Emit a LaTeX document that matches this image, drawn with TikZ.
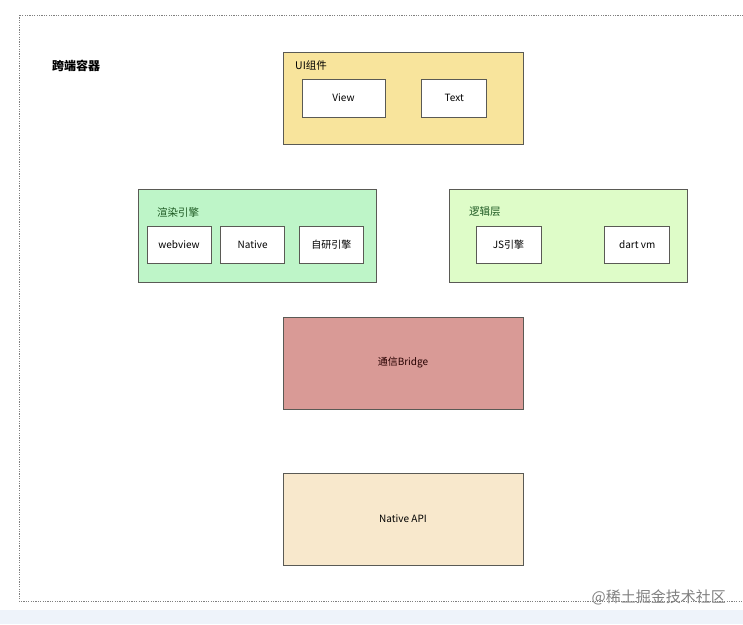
\documentclass[tikz,border=0pt]{standalone}
\usepackage{fontspec}
\setmainfont{Noto Sans CJK SC}
\usetikzlibrary{positioning}
\definecolor{uifill}{HTML}{F8E49C}
\definecolor{renderfill}{HTML}{BEF5C8}
\definecolor{logicfill}{HTML}{DEFCC8}
\definecolor{bridgefill}{HTML}{D99A96}
\definecolor{apifill}{HTML}{F8E8CC}
\definecolor{boxline}{HTML}{5A5A55}
\definecolor{labelgreen}{HTML}{1E5A23}
\definecolor{bandblue}{HTML}{EEF3FA}
\tikzset{layer/.style = {draw=boxline, line width=.8pt, minimum width=240pt,
    minimum height=92pt, inner sep=0pt, font=\fontsize{10}{11}\selectfont}}

\begin{document}
\begin{tikzpicture}[x=1pt, y=-1pt,
    part/.style = {draw=boxline, line width=.7pt, fill=white, minimum width=64pt,
        minimum height=37pt, inner sep=0pt, font=\fontsize{10}{11}\selectfont},
    tag/.style = {anchor=west, inner sep=0pt, font=\fontsize{10.5}{11}\selectfont}]
    \useasboundingbox (0,0) rectangle (743,624);
    \clip (0,0) rectangle (743,624);
    \fill[bandblue] (0,610) rectangle (743,624);
    \draw[gray, line width=.6pt, dash pattern=on 1.2pt off 1.2pt]
        (19,15) rectangle (760,601);
    \node[tag, font=\fontsize{12}{13}\selectfont\bfseries] (title) at (52,66) {跨端容器};

    \node[layer, fill=uifill] (ui) at (403,98) {};
    \node[tag] (uitag) at (295,66) {UI组件};
    \node[part, minimum width=83pt, minimum height=38pt] (view) at (343.5,98) {View};
    \node[part, minimum width=65pt, minimum height=38pt] (text) [right=36pt of view] {Text};

    \node[layer, fill=renderfill, minimum width=238pt, minimum height=93pt]
        (render) at (257,235.5) {};
    \node[tag, text=labelgreen] (rendertag) at (157,212) {渲染引擎};
    \node[part] (webview) at (179,244.5) {webview};
    \node[part] (native) [right=9pt of webview] {Native};
    \node[part] (selfeng) [right=14pt of native] {自研引擎};

    \node[layer, fill=logicfill, minimum width=238pt, minimum height=93pt]
        (logic) at (568,235.5) {};
    \node[tag, text=labelgreen] (logictag) at (469,212) {逻辑层};
    \node[part, minimum width=65pt] (js) at (508.5,244.5) {JS引擎};
    \node[part, minimum width=65pt] (dart) [right=63pt of js] {dart vm};

    \node[layer, fill=bridgefill, text=black!85!red] (bridge) at (403,363) {通信Bridge};
    \node[layer, fill=apifill] (api) at (403,519) {Native API};

    \node[anchor=east, inner sep=0pt, text=gray, font=\fontsize{15}{16}\selectfont]
        (mark) at (726,597) {@稀土掘金技术社区};
\end{tikzpicture}
\end{document}
